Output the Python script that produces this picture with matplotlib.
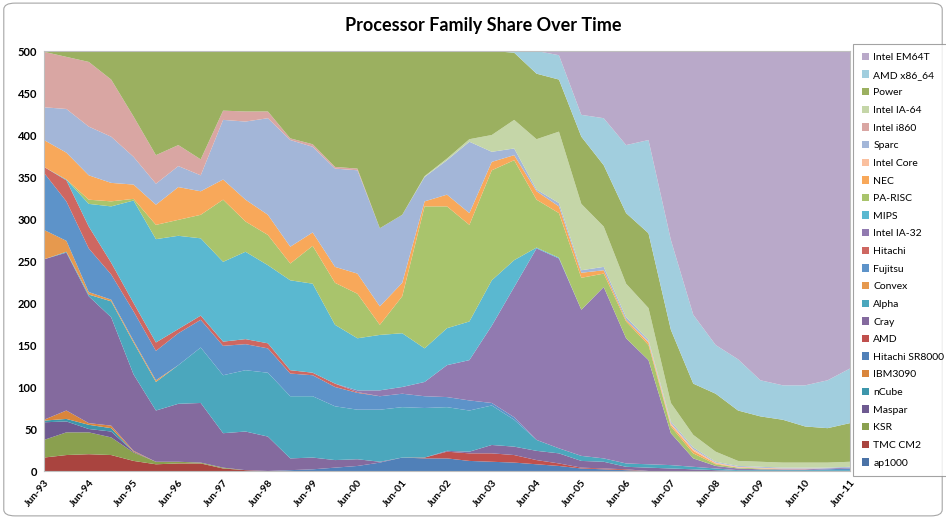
import numpy as np
import matplotlib
matplotlib.use('Agg')
import matplotlib.pyplot as plt
from matplotlib.patches import FancyBboxPatch

plt.rcParams['font.family'] = ['Lato', 'DejaVu Sans']

# semiannual lists, Jun-93 .. Jun-11
dates = ['Jun-93', 'Nov-93', 'Jun-94', 'Nov-94', 'Jun-95', 'Nov-95', 'Jun-96', 'Nov-96',
         'Jun-97', 'Nov-97', 'Jun-98', 'Nov-98', 'Jun-99', 'Nov-99', 'Jun-00', 'Nov-00',
         'Jun-01', 'Nov-01', 'Jun-02', 'Nov-02', 'Jun-03', 'Nov-03', 'Jun-04', 'Nov-04',
         'Jun-05', 'Nov-05', 'Jun-06', 'Nov-06', 'Jun-07', 'Nov-07', 'Jun-08', 'Nov-08',
         'Jun-09', 'Nov-09', 'Jun-10', 'Nov-10', 'Jun-11']

# series from bottom of the stack to top
ap1000 =         [0, 0, 0, 0, 0, 0, 0, 0, 0, 0, 0, 0, 0, 0, 0, 0, 0, 0, 0, 0, 0, 0, 0, 0, 0, 0, 0, 0, 0, 0, 0, 0, 0, 0, 0, 0, 0]
tmc_cm2 =        [16, 19, 20, 19, 12, 8, 9, 9, 3, 1, 0, 0, 0, 0, 0, 0, 0, 0, 0, 0, 0, 0, 0, 0, 0, 0, 0, 0, 0, 0, 0, 0, 0, 0, 0, 0, 0]
ksr =            [21, 27, 26, 21, 10, 3, 2, 1, 1, 0, 0, 0, 0, 0, 0, 0, 0, 0, 0, 0, 0, 0, 0, 0, 0, 0, 0, 0, 0, 0, 0, 0, 0, 0, 0, 0, 0]
maspar =         [21, 13, 4, 7, 1, 0, 0, 0, 0, 0, 0, 0, 0, 0, 0, 0, 0, 0, 0, 0, 0, 0, 0, 0, 0, 0, 0, 0, 0, 0, 0, 0, 0, 0, 0, 0, 0]
ncube =          [2, 3, 5, 4, 0, 0, 0, 0, 0, 0, 0, 0, 0, 0, 0, 0, 0, 0, 0, 0, 0, 0, 0, 0, 0, 0, 0, 0, 0, 0, 0, 0, 0, 0, 0, 0, 0]
ibm3090 =        [1, 10, 2, 3, 1, 0, 0, 0, 0, 0, 0, 0, 0, 0, 0, 0, 0, 0, 0, 0, 0, 0, 0, 0, 0, 0, 0, 0, 0, 0, 0, 0, 0, 0, 0, 0, 0]
hitachi_sr8000 = [0, 0, 0, 0, 0, 0, 0, 0, 0, 0, 0, 1, 2, 4, 6, 10, 16, 15, 15, 12, 11, 10, 8, 6, 3, 2, 1, 0, 0, 0, 0, 0, 0, 0, 0, 0, 0]
amd =            [0, 0, 0, 0, 0, 0, 0, 0, 0, 0, 0, 0, 0, 0, 0, 0, 0, 1, 8, 9, 10, 9, 5, 3, 1, 1, 1, 0, 0, 0, 0, 0, 0, 0, 0, 0, 0]
cray =           [191, 188, 151, 129, 91, 61, 69, 71, 41, 46, 41, 14, 14, 9, 8, 1, 0, 0, 1, 2, 10, 10, 11, 12, 8, 8, 3, 4, 3, 2, 1, 0, 0, 0, 0, 0, 0]
alpha =          [0, 1, 2, 19, 38, 34, 46, 66, 69, 73, 76, 74, 73, 64, 59, 62, 60, 59, 52, 49, 47, 32, 13, 6, 6, 4, 4, 4, 4, 3, 2, 1, 1, 1, 1, 1, 1]
convex =         [35, 13, 3, 2, 2, 2, 0, 0, 0, 0, 0, 0, 0, 0, 0, 0, 0, 0, 0, 0, 0, 0, 0, 0, 0, 0, 0, 0, 0, 0, 0, 0, 0, 0, 0, 0, 0]
fujitsu =        [68, 47, 52, 30, 35, 35, 38, 33, 35, 31, 29, 27, 25, 23, 20, 16, 16, 14, 12, 12, 3, 3, 0, 0, 0, 0, 0, 0, 0, 0, 0, 0, 0, 0, 0, 1, 2]
hitachi =        [7, 25, 26, 14, 10, 10, 5, 5, 5, 6, 6, 4, 3, 4, 1, 0, 0, 0, 0, 0, 0, 0, 0, 0, 0, 0, 0, 0, 0, 0, 0, 0, 0, 0, 0, 0, 0]
intel_ia32 =     [0, 0, 0, 0, 0, 0, 0, 0, 0, 0, 0, 0, 0, 0, 2, 7, 8, 17, 38, 48, 92, 155, 228, 226, 174, 204, 149, 124, 38, 10, 3, 2, 1, 1, 1, 1, 1]
mips =           [0, 1, 27, 67, 122, 123, 111, 92, 95, 104, 93, 107, 106, 70, 62, 66, 64, 40, 44, 46, 54, 32, 1, 1, 0, 0, 0, 0, 0, 0, 0, 0, 0, 0, 0, 0, 0]
pa_risc =        [0, 0, 5, 6, 2, 17, 19, 28, 74, 36, 36, 20, 45, 50, 53, 12, 44, 169, 145, 115, 131, 119, 57, 53, 38, 16, 20, 18, 8, 6, 2, 1, 1, 0, 0, 0, 0]
nec =            [32, 32, 29, 22, 17, 24, 39, 28, 24, 26, 24, 20, 16, 19, 24, 22, 16, 6, 14, 14, 10, 6, 10, 8, 6, 4, 2, 3, 2, 3, 1, 0, 0, 0, 0, 0, 0]
intel_core =     [0, 0, 0, 0, 0, 0, 0, 0, 0, 0, 0, 0, 0, 0, 0, 0, 0, 0, 0, 0, 0, 0, 0, 0, 0, 0, 0, 1, 2, 2, 1, 1, 1, 1, 1, 0, 0]
sparc =          [39, 52, 58, 55, 33, 25, 25, 19, 71, 93, 115, 127, 102, 117, 123, 93, 81, 29, 41, 85, 12, 8, 2, 4, 3, 4, 3, 2, 2, 2, 1, 1, 1, 1, 1, 1, 1]
intel_i860 =     [66, 62, 77, 68, 48, 34, 25, 19, 11, 12, 8, 2, 3, 2, 2, 0, 0, 0, 0, 0, 0, 0, 0, 0, 0, 0, 0, 0, 0, 0, 0, 0, 0, 0, 0, 0, 0]
intel_ia64 =     [0, 0, 0, 0, 0, 0, 0, 0, 0, 0, 0, 0, 0, 0, 0, 0, 0, 1, 2, 3, 20, 34, 60, 85, 79, 48, 40, 38, 22, 15, 12, 6, 6, 6, 6, 6, 6]
power =          [1, 7, 13, 34, 78, 124, 112, 129, 71, 72, 72, 104, 111, 138, 140, 211, 195, 149, 128, 105, 100, 80, 78, 62, 80, 73, 84, 89, 87, 61, 69, 60, 54, 51, 43, 41, 46]
amd_x86_64 =     [0, 0, 0, 0, 0, 0, 0, 0, 0, 0, 0, 0, 0, 0, 0, 0, 0, 0, 0, 0, 0, 2, 27, 29, 26, 56, 81, 111, 107, 82, 58, 61, 43, 41, 49, 57, 65]
intel_em64t =    [0, 0, 0, 0, 0, 0, 0, 0, 0, 0, 0, 0, 0, 0, 0, 0, 0, 0, 0, 0, 0, 0, 0, 5, 76, 80, 112, 106, 225, 314, 350, 367, 392, 398, 398, 392, 378]

names = ['ap1000', 'TMC CM2', 'KSR', 'Maspar', 'nCube', 'IBM3090', 'Hitachi SR8000', 'AMD',
         'Cray', 'Alpha', 'Convex', 'Fujitsu', 'Hitachi', 'Intel IA-32', 'MIPS', 'PA-RISC',
         'NEC', 'Intel Core', 'Sparc', 'Intel i860', 'Intel IA-64', 'Power', 'AMD x86_64', 'Intel EM64T']
series = [ap1000, tmc_cm2, ksr, maspar, ncube, ibm3090, hitachi_sr8000, amd, cray, alpha, convex,
          fujitsu, hitachi, intel_ia32, mips, pa_risc, nec, intel_core, sparc, intel_i860,
          intel_ia64, power, amd_x86_64, intel_em64t]
colors = ['#4A72A6', '#A9443F', '#8AA04F', '#6E5A91', '#3D96AB', '#D9853B', '#5080B8', '#C0504D',
          '#846A9E', '#4BA7BD', '#E6994E', '#5D93C9', '#CE6761', '#917AB0', '#5AB8D0', '#A9C46C',
          '#F8A85A', '#FAC09F', '#A3B6D8', '#D9A6A3', '#C5D6A8', '#9BB060', '#A1CEDE', '#B9A9C9']

fig = plt.figure(figsize=(9.46, 5.19), dpi=100)
ax = fig.add_axes([44 / 946, 1 - 471 / 519, 806 / 946, 420 / 519])

x = np.arange(len(dates))
polys = ax.stackplot(x, *series, labels=names, colors=colors, linewidth=0)

ax.set_xlim(0, len(dates) - 1)
ax.set_ylim(0, 500)
ax.set_yticks(range(0, 501, 50))
ax.set_yticklabels([str(v) for v in range(0, 501, 50)], fontsize=8, fontweight='bold')
ax.set_xticks(x[::2])
ax.set_xticklabels(dates[::2], rotation=50, ha='right', rotation_mode='anchor',
                   fontsize=7.5, fontweight='bold')
ax.tick_params(axis='both', length=0, pad=5)
for s in ax.spines.values():
    s.set_color('#BFBFBF')
    s.set_linewidth(0.8)

fig.text(483 / 946, 1 - 25 / 519, 'Processor Family Share Over Time', ha='center', va='center',
         fontsize=13, fontweight='bold')

# legend lists top series first, like Excel
leg = fig.legend(polys[::-1], names[::-1], loc='upper left', bbox_to_anchor=(853 / 946, 1 - 44 / 519),
                 fontsize=7.5, frameon=True, fancybox=False, edgecolor='#8C8C8C',
                 handlelength=0.7, handleheight=0.7, handletextpad=0.4, labelspacing=0.8,
                 borderpad=0.85, borderaxespad=0)
leg.get_frame().set_linewidth(0.8)

# rounded chart border
fig.patches.append(FancyBboxPatch((0.004, 0.006), 0.992, 0.988, boxstyle='round,pad=0,rounding_size=0.012',
                                  transform=fig.transFigure, fill=False, edgecolor='#A6A6A6', linewidth=0.8))

fig.savefig('out.png', dpi=100)
